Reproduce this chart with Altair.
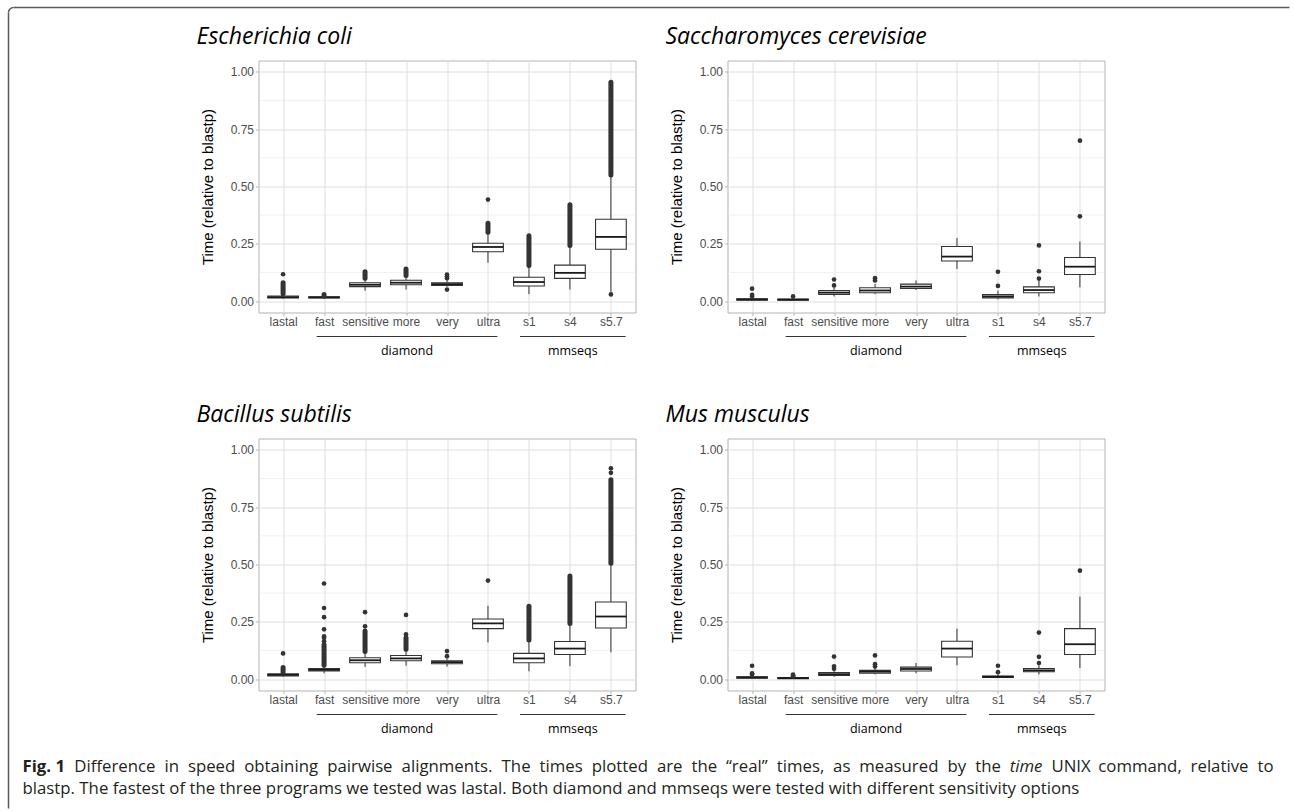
import altair as alt
import pandas as pd

CATEGORIES = ["lastal", "fast", "sensitive", "more", "very", "ultra", "s1", "s4", "s5.7"]
GROUP_LABELS = ["diamond", "mmseqs"]
GROUP_FROM = [1.82, 6.78]
GROUP_TO = [6.23, 9.36]
Y_TICKS = [0.0, 0.25, 0.5, 0.75, 1.0]
Y_MINOR = [0.125, 0.375, 0.625, 0.875]
Y_TITLE = "Time (relative to blastp)"

TITLES = ["Escherichia coli", "Saccharomyces cerevisiae", "Bacillus subtilis", "Mus musculus"]

# ---- Escherichia coli ----
ECOLI_Q1 = [0.013, 0.013, 0.063, 0.071, 0.068, 0.215, 0.066, 0.099, 0.226]
ECOLI_MED = [0.017, 0.016, 0.071, 0.080, 0.074, 0.236, 0.083, 0.123, 0.280]
ECOLI_Q3 = [0.022, 0.019, 0.080, 0.091, 0.080, 0.252, 0.104, 0.157, 0.357]
ECOLI_WLO = [0.010, 0.010, 0.045, 0.050, 0.062, 0.167, 0.030, 0.050, 0.040]
ECOLI_WHI = [0.032, 0.024, 0.095, 0.110, 0.094, 0.297, 0.152, 0.239, 0.543]
ECOLI_DENSE_LO = [0.032, 0.022, 0.100, 0.112, None, 0.300, 0.155, 0.242, 0.550]
ECOLI_DENSE_HI = [0.080, 0.029, 0.128, 0.140, None, 0.340, 0.285, 0.420, 0.955]
ECOLI_OUT = [[0.117], [], [], [], [0.050, 0.100, 0.108, 0.116], [0.443], [], [], [0.029]]

# ---- Saccharomyces cerevisiae ----
SCER_Q1 = [0.004, 0.004, 0.029, 0.036, 0.055, 0.175, 0.014, 0.036, 0.116]
SCER_MED = [0.007, 0.006, 0.037, 0.046, 0.063, 0.194, 0.020, 0.048, 0.150]
SCER_Q3 = [0.010, 0.009, 0.046, 0.058, 0.074, 0.238, 0.028, 0.062, 0.190]
SCER_WLO = [0.002, 0.002, 0.020, 0.030, 0.048, 0.140, 0.007, 0.020, 0.060]
SCER_WHI = [0.015, 0.013, 0.060, 0.075, 0.090, 0.275, 0.045, 0.090, 0.260]
SCER_DENSE_LO = [None] * 9
SCER_DENSE_HI = [None] * 9
SCER_OUT = [[0.020, 0.027, 0.054], [0.020], [0.068, 0.094], [0.090, 0.100], [], [],
            [0.066, 0.128], [0.098, 0.130, 0.243], [0.370, 0.700]]

# ---- Bacillus subtilis ----
BSUB_Q1 = [0.013, 0.035, 0.071, 0.080, 0.067, 0.220, 0.071, 0.107, 0.223]
BSUB_MED = [0.018, 0.040, 0.082, 0.090, 0.074, 0.243, 0.090, 0.133, 0.273]
BSUB_Q3 = [0.023, 0.046, 0.093, 0.103, 0.080, 0.262, 0.112, 0.164, 0.336]
BSUB_WLO = [0.010, 0.025, 0.053, 0.058, 0.054, 0.160, 0.034, 0.056, 0.117]
BSUB_WHI = [0.030, 0.060, 0.120, 0.130, 0.090, 0.320, 0.168, 0.240, 0.500]
BSUB_DENSE_LO = [0.030, 0.060, 0.120, 0.130, None, None, 0.170, 0.242, 0.505]
BSUB_DENSE_HI = [0.050, 0.150, 0.210, 0.180, None, None, 0.318, 0.450, 0.870]
BSUB_OUT = [[0.112], [0.165, 0.180, 0.186, 0.217, 0.270, 0.310, 0.417], [0.230, 0.292],
            [0.195, 0.280], [0.100, 0.122], [0.430], [], [], [0.900, 0.920]]

# ---- Mus musculus ----
MMUS_Q1 = [0.004, 0.002, 0.016, 0.025, 0.035, 0.096, 0.007, 0.032, 0.107]
MMUS_MED = [0.007, 0.004, 0.021, 0.032, 0.044, 0.133, 0.010, 0.038, 0.152]
MMUS_Q3 = [0.010, 0.006, 0.028, 0.038, 0.052, 0.165, 0.013, 0.046, 0.220]
MMUS_WLO = [0.002, 0.001, 0.010, 0.020, 0.025, 0.060, 0.004, 0.020, 0.048]
MMUS_WHI = [0.015, 0.010, 0.040, 0.050, 0.070, 0.220, 0.020, 0.065, 0.360]
MMUS_DENSE_LO = [None] * 9
MMUS_DENSE_HI = [None] * 9
MMUS_OUT = [[0.020, 0.025, 0.058], [0.012, 0.016, 0.019], [0.045, 0.055, 0.098],
            [0.055, 0.065, 0.103], [], [], [0.030, 0.058], [0.070, 0.097, 0.203], [0.473]]

# caption, first line is justified word by word: (word, style)
CAPTION_LINE1 = [("Fig. 1", "bold")] + [(w, "normal") for w in
    "Difference in speed obtaining pairwise alignments. The times plotted are the \u201creal\u201d times, as measured by the".split(" ")] + \
    [("time", "italic")] + [(w, "normal") for w in "UNIX command, relative to".split(" ")]
CAPTION_LINE2 = "blastp. The fastest of the three programs we tested was lastal. Both diamond and mmseqs were tested with different sensitivity options"

PANELS = [
    (ECOLI_Q1, ECOLI_MED, ECOLI_Q3, ECOLI_WLO, ECOLI_WHI, ECOLI_DENSE_LO, ECOLI_DENSE_HI, ECOLI_OUT),
    (SCER_Q1, SCER_MED, SCER_Q3, SCER_WLO, SCER_WHI, SCER_DENSE_LO, SCER_DENSE_HI, SCER_OUT),
    (BSUB_Q1, BSUB_MED, BSUB_Q3, BSUB_WLO, BSUB_WHI, BSUB_DENSE_LO, BSUB_DENSE_HI, BSUB_OUT),
    (MMUS_Q1, MMUS_MED, MMUS_Q3, MMUS_WLO, MMUS_WHI, MMUS_DENSE_LO, MMUS_DENSE_HI, MMUS_OUT),
]

W, H = 377, 252
AXIS_FONT = "Liberation Sans"
SANS = "Open Sans"
DARK = "#333333"
FRAME = "#5A5A5A"
CAP_SIZE = 16.8
CAP_LEFT, CAP_RIGHT = -236, 1015   # caption line extent, px relative to lower-left panel

# approximate Open Sans advance widths (em) used to justify the first caption line
_OS_W = {" ": .260, "a": .556, "b": .613, "c": .476, "d": .613, "e": .561, "f": .339, "g": .548,
         "h": .614, "i": .253, "k": .525, "l": .253, "m": .930, "n": .614, "o": .604, "p": .613,
         "r": .408, "s": .477, "t": .353, "u": .614, "v": .501, "w": .778, "x": .524, "y": .502,
         ".": .266, ",": .244, "T": .551, "U": .711, "N": .733, "I": .279, "X": .539, "D": .722,
         "F": .489, "1": .571, "\u201c": .36, "\u201d": .36}


def text_width(word, style):
    if style == "bold":
        return 2.554 * CAP_SIZE
    if style == "italic":
        return 1.95 * CAP_SIZE
    return sum(_OS_W.get(ch, .55) for ch in word) * CAP_SIZE


label_expr = "[" + ",".join("'" + c + "'" for c in CATEGORIES) + "][datum.value - 1]"

xs = alt.Scale(domain=[0.4, 9.6], nice=False, zero=False)
ys = alt.Scale(domain=[-0.05, 1.05], nice=False, zero=False)

x_axis = alt.Axis(values=list(range(1, 10)), labelExpr=label_expr, title=None, grid=True,
                  gridColor="#DEDEDE", gridWidth=1, domain=False, ticks=True, tickSize=3,
                  tickColor="#B3B3B3", labelFont=AXIS_FONT, labelFontSize=12,
                  labelColor="#4D4D4D", labelPadding=1, labelOverlap=False, labelFlush=False)
y_axis = alt.Axis(values=Y_TICKS, format=".2f", title=Y_TITLE, grid=True, gridColor="#DEDEDE",
                  gridWidth=1, domain=False, ticks=True, tickSize=3, tickColor="#B3B3B3",
                  labelFont=AXIS_FONT, labelFontSize=12, labelColor="#4D4D4D", labelPadding=2,
                  labelOverlap=False, titleFont=AXIS_FONT, titleFontSize=15,
                  titleFontWeight="normal", titleColor="black", titleX=-51, titleY=H / 2,
                  titleAngle=270, titleAlign="center", titleBaseline="middle")

one = pd.DataFrame({"k": [0]})


def X(field):
    return alt.X(field, scale=xs, axis=x_axis)


def Y(field):
    return alt.Y(field, scale=ys, axis=y_axis)


def caption_layers():
    widths = [text_width(w, s) for w, s in CAPTION_LINE1]
    gap = ((CAP_RIGHT - CAP_LEFT) - sum(widths)) / (len(widths) - 1)
    layers = []
    xpos = CAP_LEFT
    for (word, style), wd in zip(CAPTION_LINE1, widths):
        kw = dict(align="left", baseline="alphabetic", font=SANS, fontSize=CAP_SIZE, color="#231F20")
        if style == "bold":
            kw["fontWeight"] = "bold"
        elif style == "italic":
            kw["fontStyle"] = "italic"
        layers.append(alt.Chart(one).mark_text(**kw).encode(
            x=alt.value(round(xpos, 1)), y=alt.value(333), text=alt.value(word)))
        xpos += wd + gap
    layers.append(alt.Chart(one).mark_text(align="left", baseline="alphabetic", font=SANS,
                                           fontSize=CAP_SIZE, color="#231F20").encode(
        x=alt.value(CAP_LEFT), y=alt.value(355), text=alt.value(CAPTION_LINE2)))
    return layers


def frame_layers():
    # figure frame: left and top edges with a rounded top-left corner
    left, top, r = -250, -53, 5
    return [
        alt.Chart(one).mark_rule(color=FRAME, strokeWidth=1.5).encode(
            x=alt.value(left), y=alt.value(top + r), y2=alt.value(748)),
        alt.Chart(one).mark_rule(color=FRAME, strokeWidth=1.5).encode(
            x=alt.value(left + r), x2=alt.value(1031), y=alt.value(top)),
        alt.Chart(one).mark_arc(color=FRAME, radius=r + 0.75, radius2=r - 0.75,
                                theta=4.712389, theta2=6.283185).encode(
            x=alt.value(left + r), y=alt.value(top + r)),
    ]


def panel(idx):
    q1, med, q3, wlo, whi, dlo, dhi, outs = PANELS[idx]
    pos = list(range(1, 10))
    box_df = pd.DataFrame({"cat": CATEGORIES, "pos": pos, "q1": q1, "med": med, "q3": q3,
                           "wlo": wlo, "whi": whi})
    dense_rows = [(p, a, b) for p, a, b in zip(pos, dlo, dhi) if a is not None]
    dense_df = pd.DataFrame(dense_rows, columns=["pos", "lo", "hi"])
    out_rows = [(p, v) for p, vals in zip(pos, outs) for v in vals]
    out_df = pd.DataFrame(out_rows, columns=["pos", "v"])
    grp_df = pd.DataFrame({"label": GROUP_LABELS, "from": GROUP_FROM, "to": GROUP_TO})
    minor_df = pd.DataFrame({"v": Y_MINOR})

    base = alt.Chart(box_df).transform_calculate(
        x0="datum.pos - 0.375", x1="datum.pos + 0.375")

    minor = alt.Chart(minor_df).mark_rule(color="#E8E8E8", strokeWidth=0.6).encode(y=Y("v:Q"))

    boxes = base.mark_rect(fill="white", stroke=DARK, strokeWidth=1.1).encode(
        x=X("x0:Q"), x2="x1:Q", y=Y("q3:Q"), y2="q1:Q")
    whisk_lo = base.mark_rule(color=DARK, strokeWidth=1).encode(
        x=X("pos:Q"), y=Y("wlo:Q"), y2="q1:Q")
    whisk_hi = base.mark_rule(color=DARK, strokeWidth=1).encode(
        x=X("pos:Q"), y=Y("q3:Q"), y2="whi:Q")
    medians = base.mark_rule(color="#1A1A1A", strokeWidth=1.8).encode(
        x=X("x0:Q"), x2="x1:Q", y=Y("med:Q"))

    layers = [minor, whisk_lo, whisk_hi, boxes, medians]
    if len(dense_df):
        layers.append(alt.Chart(dense_df).mark_rule(color=DARK, strokeWidth=5, strokeCap="round").encode(
            x=X("pos:Q"), y=Y("lo:Q"), y2="hi:Q"))
    if len(out_df):
        layers.append(alt.Chart(out_df).mark_circle(color=DARK, size=22, opacity=1).encode(
            x=X("pos:Q"), y=Y("v:Q")))

    grp = alt.Chart(grp_df).transform_calculate(mid="(datum.from + datum.to) / 2")
    layers.append(grp.mark_rule(color=DARK, strokeWidth=1).encode(
        x=X("from:Q"), x2="to:Q", y=alt.value(H + 24)))
    layers.append(grp.mark_text(font=SANS, fontSize=12.5, color="black", baseline="middle").encode(
        x=X("mid:Q"), y=alt.value(H + 38), text="label:N"))

    layers.append(alt.Chart(one).mark_text(align="left", baseline="alphabetic", font=SANS,
                                           fontStyle="italic", fontSize=23, color="black").encode(
        x=alt.value(-62), y=alt.value(-17), text=alt.value(TITLES[idx])))

    if idx == 0:
        layers.extend(frame_layers())
    if idx == 2:
        layers.extend(caption_layers())

    return alt.layer(*layers).properties(width=W, height=H)


chart = alt.concat(*[panel(i) for i in range(4)], columns=2,
                   spacing={"row": 126, "column": 92}).properties(
    bounds="flush",
    padding={"left": 6.5, "top": 5.5, "right": 0, "bottom": 0},
    background="white",
).configure_view(stroke="#B3B3B3", strokeWidth=1)

chart.save("out.html", embed_options={"renderer": "svg", "actions": False})
